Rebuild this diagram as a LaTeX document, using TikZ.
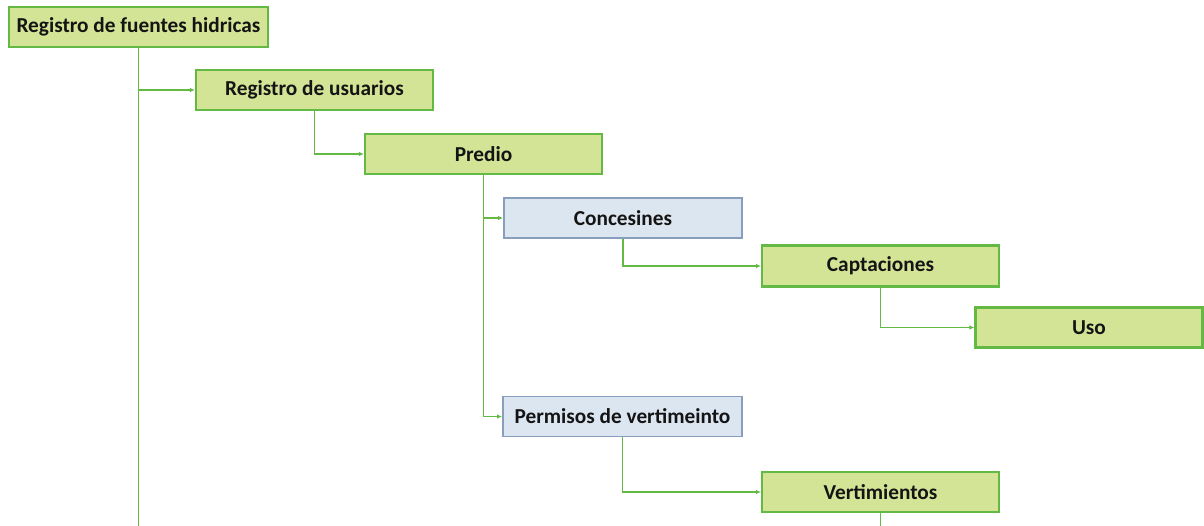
\documentclass[tikz,border=0pt]{standalone}
\usepackage{fontspec}
\setmainfont{Carlito}
\usetikzlibrary{arrows.meta}
\definecolor{gfill}{RGB}{212,228,150}
\definecolor{gline}{RGB}{100,184,68}
\definecolor{bfill}{RGB}{220,230,241}
\definecolor{bline}{RGB}{135,158,188}
\definecolor{txt}{RGB}{20,20,20}
\tikzset{
  gbox/.style={draw=gline,fill=gfill,line width=2.2pt,inner sep=0pt,text=txt,font=\fontsize{21.3}{24}\selectfont\bfseries},
  bbox/.style={draw=bline,fill=bfill,line width=1.9pt,inner sep=0pt,text=txt,font=\fontsize{21.3}{24}\selectfont\bfseries},
  conn/.style={draw=gline,line width=1.8pt,-{Latex[length=5pt,width=4.5pt]}},
  plain/.style={draw=gline,line width=1.8pt}
}
\begin{document}
\begin{tikzpicture}[x=1pt,y=-1pt]
\useasboundingbox (0,0) rectangle (1204,525);
\fill[white] (0,0) rectangle (1204,525);
\node[gbox,minimum width=259pt,minimum height=40pt] (rfh) at (138.5,27) {Registro de fuentes hidricas};
\node[gbox,minimum width=237pt,minimum height=40pt] (ru) at (314.5,90) {Registro de usuarios};
\node[gbox,minimum width=237pt,minimum height=40pt] (pre) at (483.5,154) {Predio};
\node[bbox,minimum width=238pt,minimum height=40pt] (con) at (623,218) {Concesines};
\node[gbox,minimum width=237pt,minimum height=41pt] (cap) at (880.5,266) {Captaciones};
\node[gbox,minimum width=227pt,minimum height=40pt] (uso) at (1089,327.5) {Uso};
\node[bbox,minimum width=239pt,minimum height=40pt] (per) at (622.5,416.5) {Permisos de vertimeinto};
\node[gbox,minimum width=237pt,minimum height=40pt] (ver) at (880.5,492) {Vertimientos};
\coordinate (b1) at (138.5,526);
\coordinate (b2) at (880.5,526);
\draw[plain] (rfh.south) -- (b1);
\draw[conn] (rfh.south) |- (ru.west);
\draw[conn] (ru.south) |- (pre.west);
\draw[conn] (pre.south) |- (con.west);
\draw[conn] (pre.south) |- (per.west);
\draw[conn] (con.south) |- (cap.west);
\draw[conn] (cap.south) |- (uso.west);
\draw[conn] (per.south) |- (ver.west);
\draw[plain] (ver.south) -- (b2);
\end{tikzpicture}
\end{document}
